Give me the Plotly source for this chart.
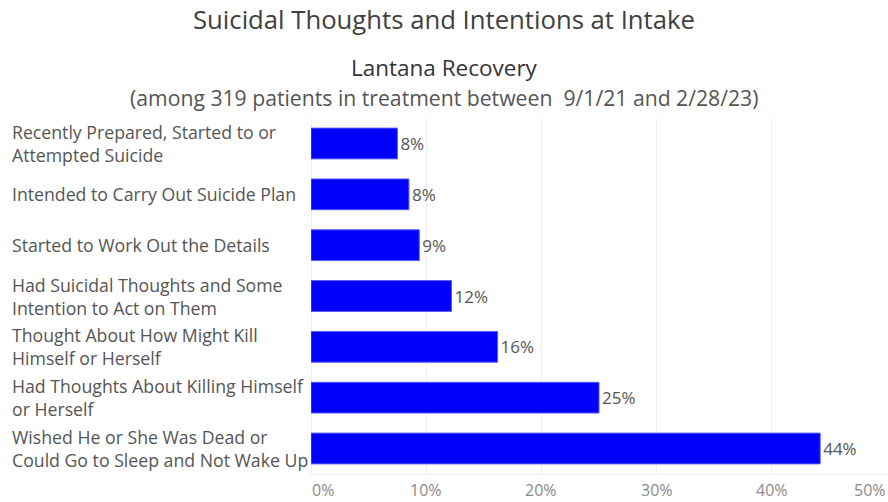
import plotly.graph_objects as go

categories = [
    "Recently Prepared, Started to or<br>Attempted Suicide",
    "Intended to Carry Out Suicide Plan",
    "Started to Work Out the Details",
    "Had Suicidal Thoughts and Some<br>Intention to Act on Them",
    "Thought About How Might Kill<br>Himself or Herself",
    "Had Thoughts About Killing Himself<br>or Herself",
    "Wished He or She Was Dead or<br>Could Go to Sleep and Not Wake Up",
]
values = [7.5, 8.5, 9.4, 12.2, 16.2, 25.0, 44.2]
value_labels = ["8%", "8%", "9%", "12%", "16%", "25%", "44%"]
tick_values = [0, 10, 20, 30, 40, 50]
tick_labels = ["0%", "10%", "20%", "30%", "40%", "50%"]

title = "Suicidal Thoughts and Intentions at Intake"
subtitle1 = "Lantana Recovery"
subtitle2 = "(among 319 patients in treatment between  9/1/21 and 2/28/23)"

FONT = "Open Sans"
TXT = "#555555"
CX = (444 - 311) / 576  # page centre in paper units

fig = go.Figure()
fig.add_trace(go.Bar(
    y=categories, x=values, orientation="h",
    marker=dict(color="#0000ff", line=dict(color="#5a5aff", width=1)),
    text=value_labels, textposition="outside", cliponaxis=False,
    textfont=dict(family=FONT, size=17, color=TXT),
    hoverinfo="skip",
))

annotations = []
for c in categories:
    annotations.append(dict(
        x=0, y=c, xref="paper", yref="y", xanchor="left", yanchor="middle",
        xshift=-301, align="left", showarrow=False, text=c,
        font=dict(family=FONT, size=17.7, color=TXT),
    ))
for v, t in zip(tick_values, tick_labels):
    anchor = "center"
    if v == tick_values[0]:
        anchor = "left"
    elif v == tick_values[-1]:
        anchor = "right"
    annotations.append(dict(
        x=v, y=0, xref="x", yref="paper", xanchor=anchor, yanchor="middle",
        yshift=-16, showarrow=False, text=t, borderpad=0,
        font=dict(family=FONT, size=16, color="#8a8a8a"),
    ))
annotations += [
    dict(x=CX, y=1.277, xref="paper", yref="paper", xanchor="center", yanchor="middle",
         showarrow=False, text=title, font=dict(family=FONT, size=25.7, color="#404040")),
    dict(x=CX, y=1.143, xref="paper", yref="paper", xanchor="center", yanchor="middle",
         showarrow=False, text=subtitle1, font=dict(family=FONT, size=22.5, color="#333333")),
    dict(x=CX, y=1.058, xref="paper", yref="paper", xanchor="center", yanchor="middle",
         showarrow=False, text=subtitle2, font=dict(family=FONT, size=21.2, color="#555555")),
]

fig.update_layout(
    width=888, height=502,
    margin=dict(l=311, r=1, t=118, b=28),
    paper_bgcolor="white", plot_bgcolor="white",
    showlegend=False, bargap=0.395,
    annotations=annotations,
    xaxis=dict(range=[0, 50], tickvals=tick_values, showticklabels=False,
               showgrid=True, gridcolor="#efefef", gridwidth=1,
               zeroline=True, zerolinecolor="#efefef", zerolinewidth=1,
               showline=True, linecolor="#efefef", fixedrange=True),
    yaxis=dict(categoryorder="array", categoryarray=categories, autorange="reversed",
               showticklabels=False, showgrid=False, zeroline=False, fixedrange=True),
)

fig.write_html("out.html", config={"displayModeBar": False},
               post_script="document.body.style.margin='0';document.body.style.padding='0';")
